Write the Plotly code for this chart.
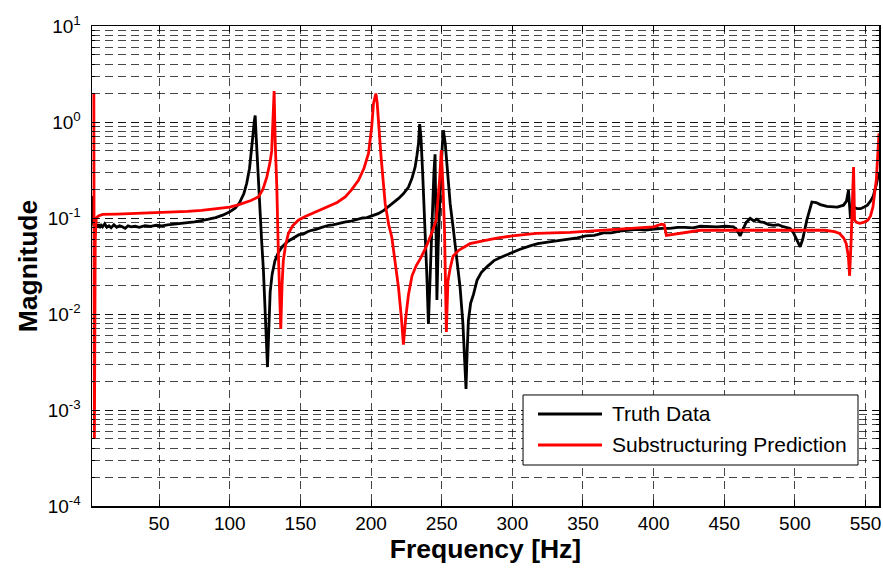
import plotly.graph_objects as go

# ---- Truth Data (black) ----
truth_freq = [2.6, 3.3, 4, 5, 6, 7, 8, 9, 10, 11.5, 13, 14.5, 16, 18, 20, 22, 24, 26, 28, 30,
              33, 36, 40, 44, 48, 52, 56, 60, 65, 70, 75, 80, 85, 90, 95, 100, 104, 107, 110, 112,
              114, 115.5, 116.5, 117.3, 118, 118.7, 119.5, 120.5, 121.5, 122.5, 123.8, 125, 126, 126.7, 127.5,
              128.6, 130, 132, 134.5, 137, 141, 146, 149, 152, 155, 158, 161, 164, 167, 170, 173, 176, 179, 182, 185, 188, 191, 194,
              197, 200, 205, 209, 212, 216, 219.5, 223, 226.5, 229, 231.2, 232.5, 233.6, 234.4, 235.3, 236.5,
              238, 239.5, 240.6, 241.5, 243, 244.5, 245.3, 246, 246.6, 247.5, 248.3, 249.5, 250.5, 251.2,
              252.5, 254, 256, 258.3, 260.5, 263, 265, 266.3, 267.2, 268, 268.9, 270.5, 272.5, 275,
              278, 282, 287, 292, 298, 305, 312, 318, 325, 333, 341, 346, 352, 358, 364.5, 370, 376, 382, 388,
              394, 400, 406, 411.6, 417, 422, 428, 433, 439, 445, 451, 456.5, 459, 461.2, 463, 465.5, 468.3, 471, 473, 475.4, 478,
              481, 484.8, 488, 491, 494, 496.6, 499, 501.5, 503.7, 505.5, 507, 508.4, 510, 512, 515,
              518, 522.6, 526, 530, 534.4, 536.5, 537.9, 538.6, 539.3, 540.5, 541.8, 544, 546.5, 549,
              551.3, 553.5, 555.5, 557.5, 559.5]
truth_mag = [0.17, 0.09, 0.082, 0.088, 0.080, 0.086, 0.079, 0.084, 0.081, 0.087, 0.080, 0.083, 0.079, 0.085, 0.080, 0.083, 0.081, 0.078, 0.083, 0.081,
             0.082, 0.080, 0.083, 0.082, 0.084, 0.083, 0.085, 0.086, 0.087, 0.089, 0.091, 0.094, 0.097, 0.101, 0.107, 0.116, 0.127, 0.145, 0.18, 0.23,
             0.33, 0.5, 0.75, 1.0, 1.17, 0.7, 0.4, 0.2, 0.12, 0.06, 0.029, 0.012, 0.005, 0.0028, 0.006,
             0.017, 0.026, 0.036, 0.044, 0.050, 0.057, 0.063, 0.067, 0.068, 0.072, 0.0745, 0.076, 0.079, 0.082, 0.084, 0.085, 0.087, 0.090, 0.091, 0.092, 0.095, 0.097, 0.100,
             0.101, 0.105, 0.111, 0.12, 0.13, 0.145, 0.16, 0.18, 0.21, 0.26, 0.34, 0.45, 0.6, 0.95, 0.7, 0.3,
             0.1, 0.025, 0.0079, 0.02, 0.08, 0.3, 0.46, 0.1, 0.014, 0.05, 0.12, 0.3, 0.6, 0.82,
             0.6, 0.3, 0.14, 0.075, 0.04, 0.019, 0.008, 0.0035, 0.00166, 0.004, 0.0085, 0.013, 0.016, 0.0224,
             0.027, 0.031, 0.036, 0.039, 0.0426, 0.047, 0.051, 0.054, 0.056, 0.058, 0.061, 0.062, 0.065, 0.066, 0.070, 0.070, 0.073, 0.074, 0.076,
             0.075, 0.077, 0.078, 0.078, 0.080, 0.080, 0.079, 0.082, 0.081, 0.081, 0.082, 0.081, 0.075, 0.065, 0.075, 0.090, 0.099, 0.093, 0.097, 0.091, 0.090,
             0.086, 0.084, 0.085, 0.082, 0.080, 0.0776, 0.070, 0.058, 0.050, 0.060, 0.080, 0.095, 0.115, 0.147, 0.145,
             0.138, 0.132, 0.130, 0.130, 0.136, 0.15, 0.195, 0.15, 0.10, 0.12, 0.13, 0.125, 0.125, 0.13,
             0.136, 0.15, 0.17, 0.22, 0.30]

# ---- Substructuring Prediction (red) ----
pred_freq = [3.8, 4.2, 4.8, 5.5, 7, 10, 20, 30, 40, 50, 60, 70, 80, 90, 100, 106, 111, 115, 120.3, 123.5,
             126.2, 128.5, 129.7, 130.6, 131.4, 132.2, 133.3, 134.4, 135.3, 136.1, 137, 137.9, 139.5, 141.5, 144.5,
             148.5, 153, 158, 164, 169.8, 176, 181.7, 186, 191.1, 195, 198.2, 200.5, 201.7, 203.4, 204.3,
             205.2, 207, 210, 212.5, 214.7, 217, 219.4, 221.5, 222.9, 224.5, 226.5, 229, 232, 235, 239,
             243, 246.1, 248.5, 249.7, 251, 252, 253.3, 254.4, 256, 258, 262, 266, 270, 280, 290,
             300, 317, 341, 364.5, 388, 400, 405.5, 407.5, 409, 412, 421, 433, 460, 490, 521,
             528, 531.6, 534.5, 536.3, 537.8, 538.7, 539.8, 540.7, 541.5, 542.2, 543.5, 545.8, 548.5, 551.6, 553.5,
             555.2, 557.6, 559.5]
pred_mag = [2.0, 0.0005, 0.06, 0.10, 0.105, 0.109, 0.110, 0.111, 0.112, 0.113, 0.115, 0.117, 0.120, 0.124, 0.130, 0.137, 0.144, 0.152, 0.166, 0.20,
            0.267, 0.38, 0.5, 0.9, 2.1, 0.6, 0.21, 0.043, 0.015, 0.007, 0.02, 0.036, 0.052, 0.069, 0.083,
            0.095, 0.103, 0.111, 0.120, 0.130, 0.145, 0.166, 0.195, 0.247, 0.33, 0.47, 0.9, 1.55, 1.98, 1.6,
            1.04, 0.45, 0.141, 0.085, 0.063, 0.035, 0.019, 0.009, 0.0048, 0.009, 0.016, 0.025, 0.032, 0.038, 0.050,
            0.070, 0.095, 0.25, 0.51, 0.2, 0.074, 0.0065, 0.022, 0.030, 0.040, 0.046, 0.050, 0.054, 0.058, 0.062,
            0.065, 0.069, 0.071, 0.0745, 0.078, 0.081, 0.086, 0.085, 0.066, 0.067, 0.071, 0.0745, 0.0745, 0.0745, 0.0745,
            0.072, 0.069, 0.062, 0.054, 0.040, 0.025, 0.06, 0.2, 0.34, 0.095, 0.09, 0.088, 0.09, 0.095, 0.105,
            0.13, 0.25, 0.76]

x_ticks = [50, 100, 150, 200, 250, 300, 350, 400, 450, 500, 550]
y_ticks = [1e-4, 1e-3, 1e-2, 1e-1, 1e0, 1e1]
y_ticktext = ["10<sup>-4</sup>", "10<sup>-3</sup>", "10<sup>-2</sup>", "10<sup>-1</sup>", "10<sup>0</sup>", "10<sup>1</sup>"]
series_names = ["Truth Data", "Substructuring Prediction"]
series_colors = ["black", "#ff0000"]

FONT = "Liberation Sans, Arial, sans-serif"
GRID = "rgba(0,0,0,0.72)"
DASH = "8px,5px"

fig = go.Figure()
fig.add_trace(go.Scatter(x=truth_freq, y=truth_mag, mode="lines", name=series_names[0],
                         line=dict(color=series_colors[0], width=2.8), showlegend=False))
fig.add_trace(go.Scatter(x=pred_freq, y=pred_mag, mode="lines", name=series_names[1],
                         line=dict(color=series_colors[1], width=2.8), showlegend=False))

# legend box drawn in paper coordinates (matches the reference's long line samples)
shapes = [dict(type="rect", xref="paper", yref="paper", x0=0.5477, x1=0.9733, y0=0.0854, y1=0.2313,
               line=dict(color="black", width=1), fillcolor="white", layer="above")]
annotations = []
for i, (nm, col) in enumerate(zip(series_names, series_colors)):
    yy = [0.1917, 0.1271][i]
    shapes.append(dict(type="line", xref="paper", yref="paper", x0=0.5667, x1=0.6480, y0=yy, y1=yy,
                       line=dict(color=col, width=3), layer="above"))
    annotations.append(dict(text=nm, xref="paper", yref="paper", x=0.6582, y=yy, xanchor="left",
                            yanchor="middle", showarrow=False, font=dict(size=21, family=FONT, color="black")))

fig.update_layout(
    width=883, height=569, autosize=False,
    margin=dict(l=92, r=4, t=26, b=63),
    paper_bgcolor="white", plot_bgcolor="white",
    font=dict(family=FONT, color="black", size=19),
    showlegend=False, hovermode=False,
    shapes=shapes, annotations=annotations,
)
fig.update_xaxes(
    type="linear", range=[2.5, 559.5], tickvals=x_ticks, automargin=False,
    showgrid=True, gridcolor=GRID, gridwidth=1, griddash=DASH,
    ticks="inside", ticklen=6, tickcolor="black", tickwidth=1,
    showline=True, linecolor="black", linewidth=1.5, mirror="ticks",
    zeroline=False, tickfont=dict(size=19, family=FONT), ticklabelstandoff=0,
    title=dict(text="<b>Frequency [Hz]</b>", font=dict(size=26.5, family=FONT), standoff=0),
)
fig.update_yaxes(
    type="log", range=[-4, 1], tickvals=y_ticks, ticktext=y_ticktext, automargin=False,
    showgrid=True, gridcolor=GRID, gridwidth=1, griddash=DASH,
    ticks="inside", ticklen=6, tickcolor="black", tickwidth=1,
    showline=True, linecolor="black", linewidth=1.5, mirror="ticks",
    zeroline=False, tickfont=dict(size=19, family=FONT), ticklabelstandoff=6,
    minor=dict(dtick="D1", showgrid=True, gridcolor=GRID, gridwidth=1, griddash=DASH,
               ticks="inside", ticklen=3, tickcolor="black"),
    title=dict(text="<b>Magnitude</b>", font=dict(size=26.5, family=FONT), standoff=2),
)

# remove the browser's default 8px body margin so the figure fills the window exactly
fig.write_html("out.html", config={"displayModeBar": False, "staticPlot": True},
               post_script="document.body.style.margin='0';document.body.style.overflow='hidden';")
